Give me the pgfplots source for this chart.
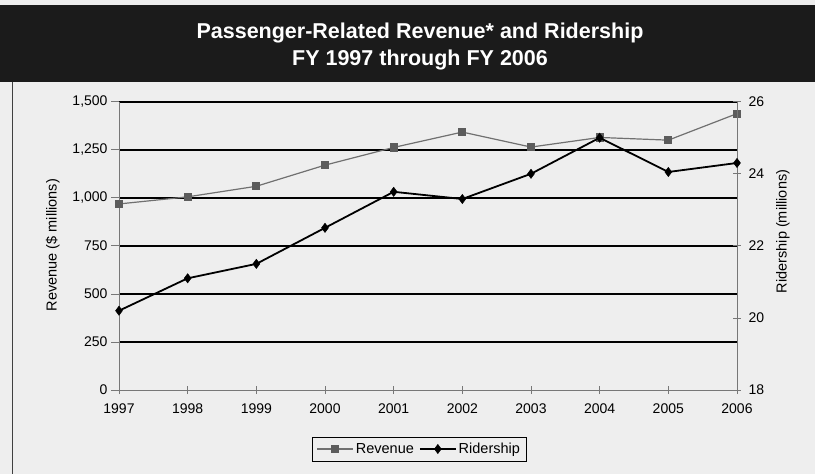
\documentclass[border=0pt]{standalone}
\usepackage{fontspec}
\setmainfont{Liberation Sans}
\usepackage{pgfplots}
\pgfplotsset{compat=1.18}

\definecolor{bg}{HTML}{EEEEEE}
\definecolor{band}{HTML}{1B1B1B}
\definecolor{revline}{HTML}{707070}
\definecolor{revmark}{HTML}{5C5C5C}
\definecolor{axgray}{HTML}{777777}

\pgfplotsset{
  twin/.style={
    at={(119pt,-390pt)}, anchor=south west,
    scale only axis, width=618pt, height=288.3pt,
    xmin=1997, xmax=2006,
    /pgf/number format/assume math mode=true,
    tick label style={font=\fontsize{14}{16}\selectfont},
    label style={font=\fontsize{14.5}{17}\selectfont},
    axis line style={axgray, line width=0.8pt},
    tick style={axgray, line width=0.8pt},
  },
  revstyle/.style={revline, line width=1.2pt, mark=square*, mark size=3.5pt,
    mark options={fill=revmark, draw=revmark, solid}},
  ridstyle/.style={black, line width=1.8pt, mark=diamond*, mark size=4.6pt,
    mark options={fill=black, draw=black, solid, line width=0.5pt}},
}

\begin{document}
\begin{tikzpicture}[x=1pt,y=1pt]
\fill[bg] (0,0) rectangle (815,-474);
\fill[band] (0,-5) rectangle (815,-82);
\draw[black!75, line width=0.8pt] (12,-82) -- (12,-474);
\node[white, font=\bfseries\fontsize{21.5}{26}\selectfont, anchor=base] at (420,-38.3) {Passenger-Related Revenue* and Ridership};
\node[white, font=\bfseries\fontsize{21.5}{26}\selectfont, anchor=base] at (420,-65) {FY 1997 through FY 2006};

% revenue, left axis
\begin{axis}[twin,
  axis y line*=left, axis x line*=bottom,
  ymin=0, ymax=1500,
  xtick={1997,1998,...,2006},
  ytick={250,500,...,1500},
  extra y ticks={0}, extra y tick style={grid=none},
  ymajorgrids, major grid style={black, line width=1.6pt},
  xtick align=center, ytick align=outside,
  major tick length=8pt,
  x tick label style={/pgf/number format/1000 sep={}, yshift=-6pt},
  y tick label style={/pgf/number format/1000 sep={,}},
  ylabel={Revenue (\$ millions)},
  ylabel style={at={(axis description cs:-0.107,0.503)}, anchor=center},
  legend style={at={(axis description cs:0.486,-0.2046)}, anchor=center,
    legend columns=2, draw=black, fill=bg, line width=0.6pt,
    font=\fontsize{14.5}{17}\selectfont, inner sep=4pt,
    /tikz/every even column/.append style={column sep=3pt}},
  legend image code/.code={
    \draw[mark repeat=2, mark phase=2] plot coordinates {(0pt,0pt) (18pt,0pt) (36pt,0pt)};},
]
\addplot[revstyle] coordinates {
  (1997,968) (1998,1005) (1999,1060) (2000,1170) (2001,1262)
  (2002,1342) (2003,1264) (2004,1314) (2005,1300) (2006,1438)};
\addlegendentry{Revenue}
\addlegendimage{ridstyle}
\addlegendentry{Ridership}
\end{axis}

% ridership, right axis
\begin{axis}[twin,
  axis y line*=right, axis x line=none,
  ymin=18, ymax=26,
  ytick={18,20,...,26},
  ytick align=center, major tick length=8pt,
  y tick label style={xshift=4pt},
  ylabel={Ridership (millions)},
  ylabel style={at={(axis description cs:1.0744,0.55)}, anchor=center},
]
\addplot[ridstyle] coordinates {
  (1997,20.2) (1998,21.1) (1999,21.5) (2000,22.5) (2001,23.5)
  (2002,23.3) (2003,24.0) (2004,25.0) (2005,24.05) (2006,24.3)};
\end{axis}
\end{tikzpicture}
\end{document}
